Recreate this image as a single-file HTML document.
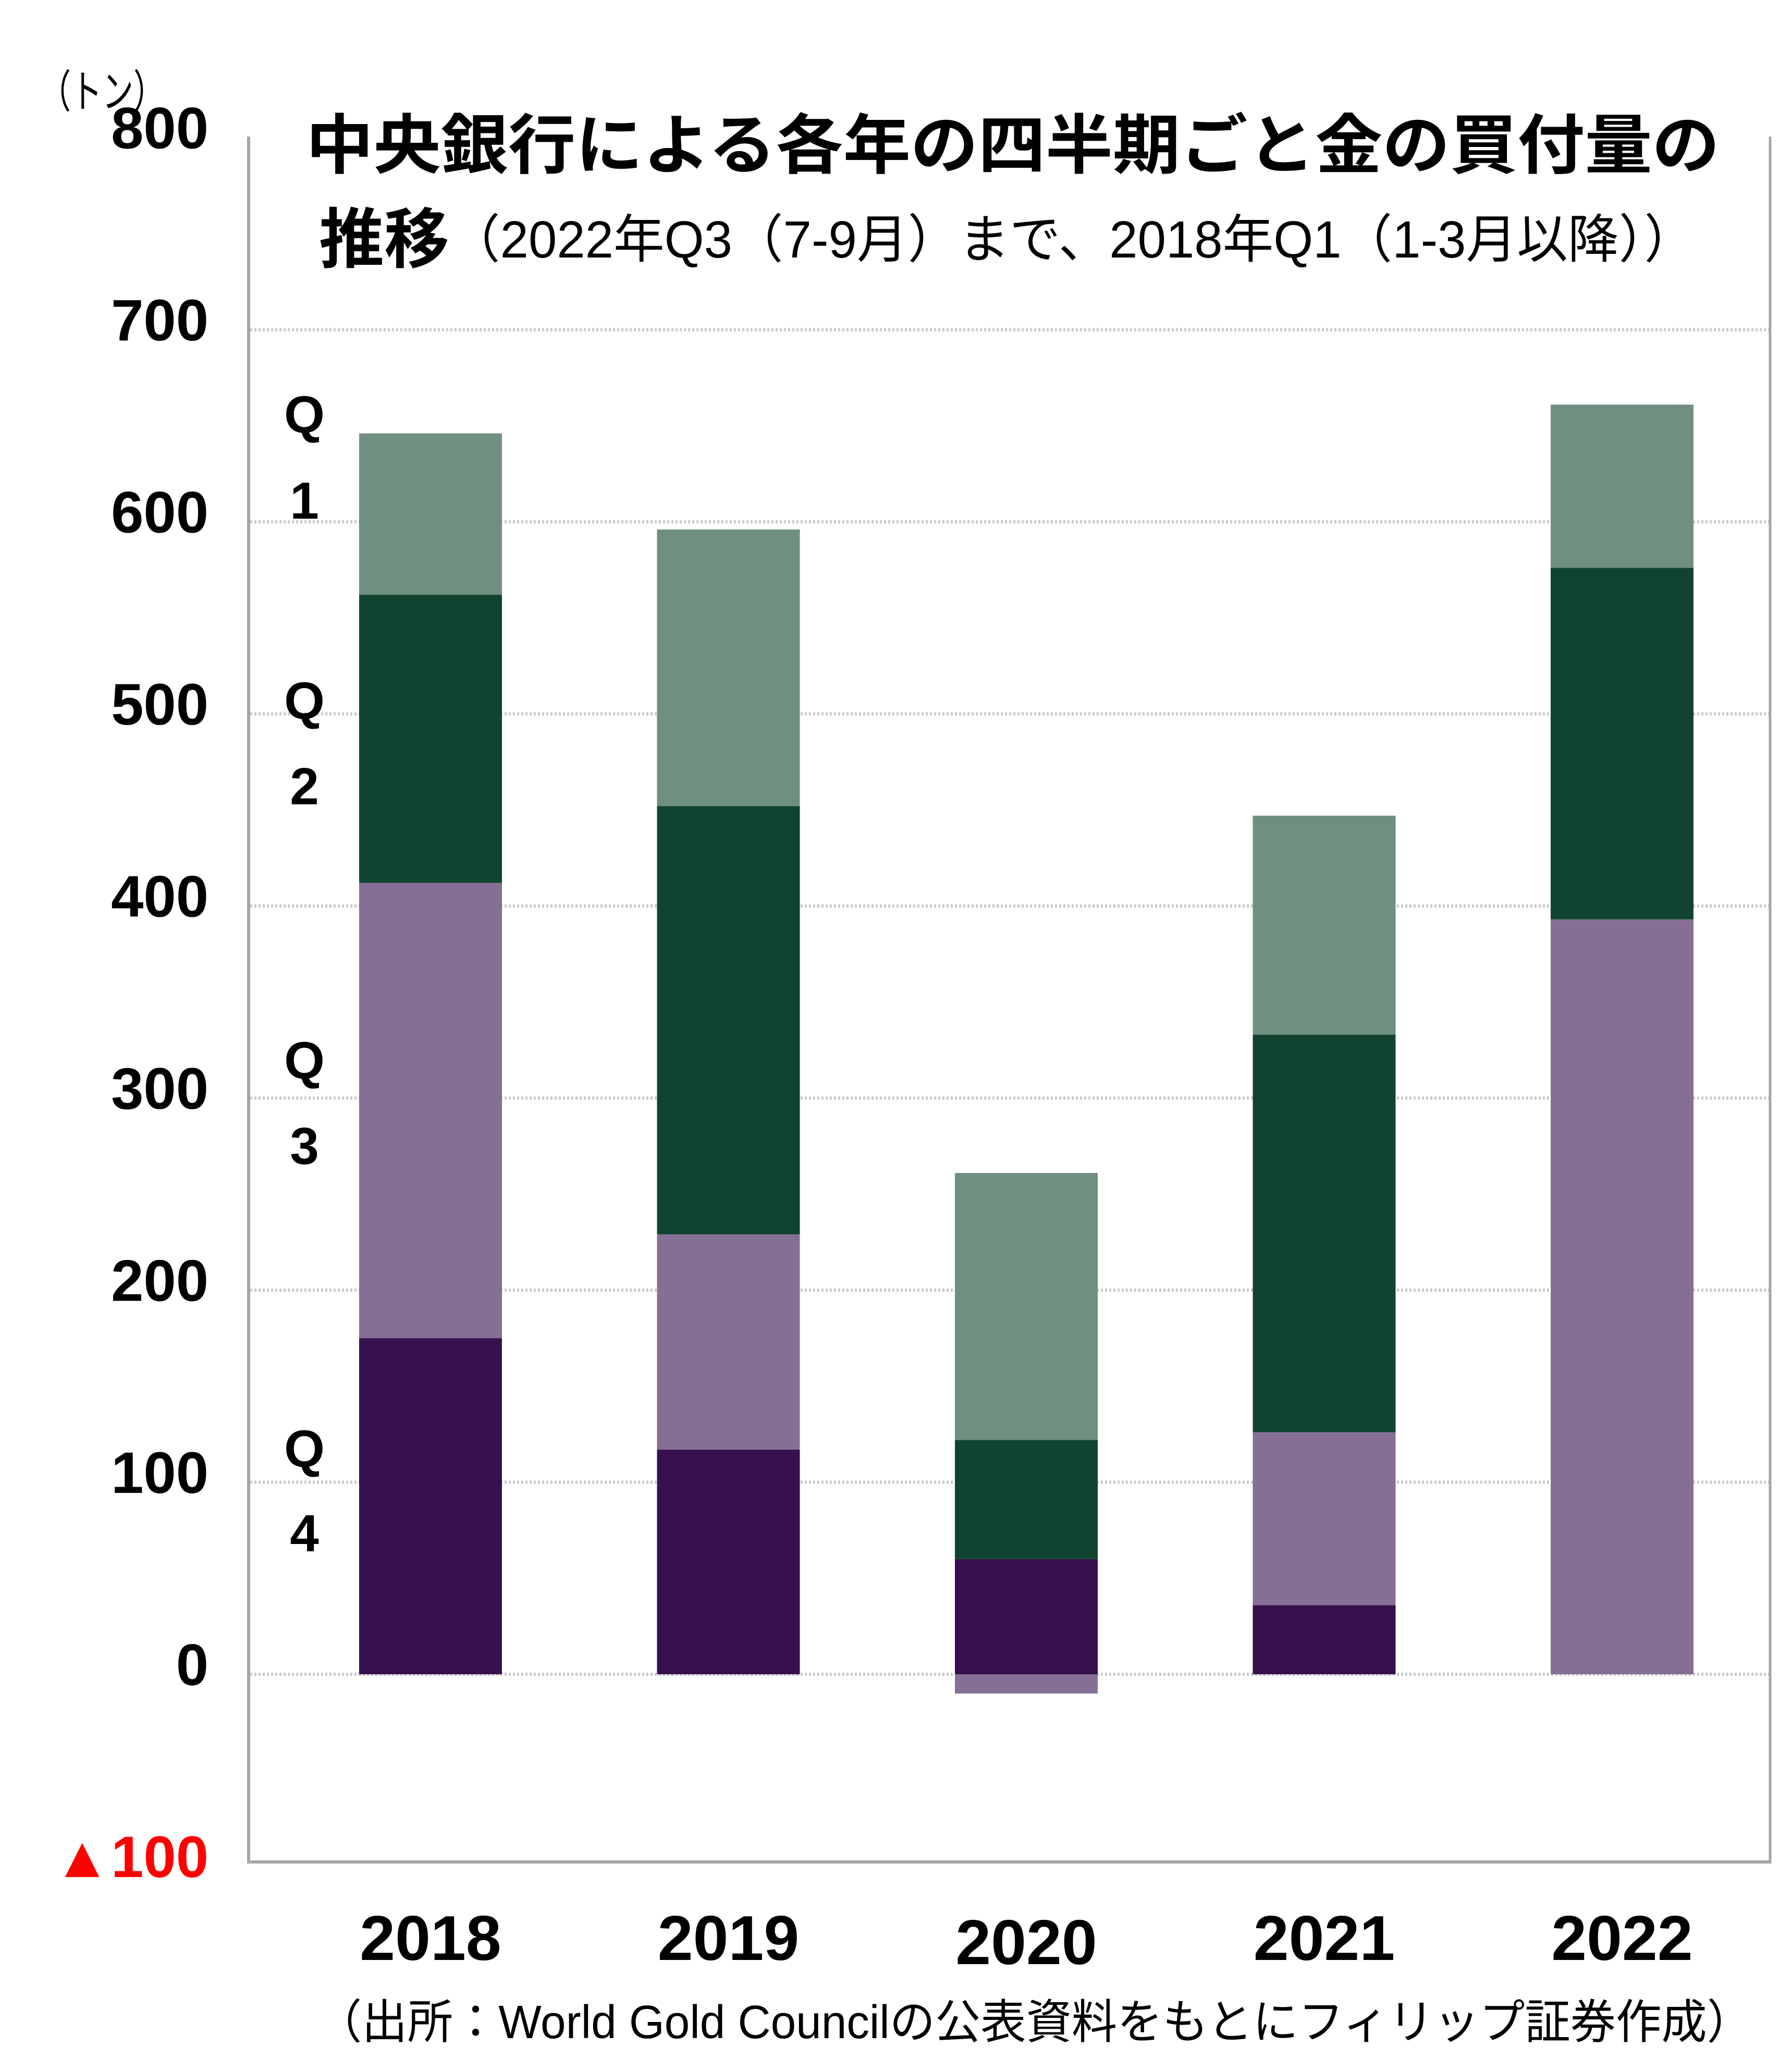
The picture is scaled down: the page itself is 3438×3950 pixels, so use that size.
<!DOCTYPE html>
<html lang="ja"><head><meta charset="utf-8"><title>中央銀行による各年の四半期ごと金の買付量の推移</title>
<style>html,body{margin:0;padding:0;background:#fff}svg{display:block}
text{font-family:"Liberation Sans","Noto Sans CJK JP",sans-serif}</style></head>
<body>
<svg id="chart" width="3438" height="3950" viewBox="0 0 3438 3950" xmlns="http://www.w3.org/2000/svg">
<rect width="3438" height="3950" fill="#fff"/>
<g id="grid"></g>
<line x1="477" y1="262" x2="477" y2="3575" stroke="#a6a6a6" stroke-width="6"/>
<line x1="474" y1="3572" x2="3398" y2="3572" stroke="#a6a6a6" stroke-width="6"/>
<line x1="3396" y1="262" x2="3396" y2="3575" stroke="#a6a6a6" stroke-width="5"/>
<g id="bars"></g>
<g id="yticks"></g>
<g id="xticks"></g>
<text x="76" y="177" dominant-baseline="central" font-size="86" textLength="240" lengthAdjust="spacingAndGlyphs">（トン）</text>
<text x="587" y="280" dominant-baseline="central" font-size="125" font-weight="bold" textLength="2712" lengthAdjust="spacingAndGlyphs">中央銀行による各年の四半期ごと金の買付量の</text>
<text x="612" y="460" dominant-baseline="central"><tspan font-size="125" font-weight="bold" textLength="250" lengthAdjust="spacingAndGlyphs">推移</tspan><tspan font-size="100" textLength="2390" lengthAdjust="spacingAndGlyphs">（2022年Q3（7-9月）まで、2018年Q1（1-3月以降））</tspan></text>
<g font-size="100" font-weight="bold" text-anchor="middle">
<text x="584" y="796" dominant-baseline="central">Q</text>
<text x="584" y="961" dominant-baseline="central">1</text>
<text x="584" y="1345" dominant-baseline="central">Q</text>
<text x="584" y="1509" dominant-baseline="central">2</text>
<text x="584" y="2035" dominant-baseline="central">Q</text>
<text x="584" y="2199" dominant-baseline="central">3</text>
<text x="584" y="2780" dominant-baseline="central">Q</text>
<text x="584" y="2942" dominant-baseline="central">4</text>
</g>
<text x="607" y="3880" dominant-baseline="central" font-size="90" textLength="2755" lengthAdjust="spacingAndGlyphs">（出所：World Gold Councilの公表資料をもとにフィリップ証券作成）</text>
</svg>
<script>
const years = ["2018","2019","2020","2021","2022"];
const q4 = [175, 117, 60, 36, 0];
const q3 = [237, 112, -10, 90, 393];
const q2 = [150, 223, 62, 207, 183];
const q1 = [84, 144, 139, 114, 85];
const tickValues = [800,700,600,500,400,300,200,100,0,-100];
const tickLabels = ["800","700","600","500","400","300","200","100","0","▲100"];
const gridValues = [700,600,500,400,300,200,100,0];

const NS="http://www.w3.org/2000/svg";
const Y0=3212, PX=3.685;
function y(v){return Y0 - v*PX;}
const X0=826, STEP=571.5, BW=274;
function xc(i){return X0 + i*STEP;}
function mk(tag,attrs,parent){const e=document.createElementNS(NS,tag);for(const k in attrs)e.setAttribute(k,attrs[k]);parent.appendChild(e);return e;}

const grid=document.getElementById('grid');
gridValues.forEach(v=>{
  const l=mk('line',{x1:480,x2:3394,y1:y(v),y2:y(v),stroke:'#c8c8c8','stroke-width':6,'stroke-dasharray':'4 4'},grid);
  
  
});

const bars=document.getElementById('bars');
const series=[{d:q4,c:'#37114e',n:'q4'},{d:q3,c:'#866f94',n:'q3'},{d:q2,c:'#114430',n:'q2'},{d:q1,c:'#6f8f80',n:'q1'}];
years.forEach((yr,i)=>{
  let pos=0,neg=0;
  series.forEach(s=>{
    const v=s.d[i]; if(!v) return;
    let a,b;
    if(v>=0){a=pos;b=pos+v;pos=b;} else {a=neg+v;b=neg;neg=a;}
    const r=mk('rect',{x:xc(i)-BW/2,y:y(b),width:BW,height:y(a)-y(b),fill:s.c},bars);
    
    
  });
});

const yt=document.getElementById('yticks');
tickValues.forEach((v,i)=>{
  const neg=v<0;
  const t=mk('text',{x:400,y:y(v)-18,'text-anchor':'end','dominant-baseline':'central','font-size':112,'font-weight':'bold',fill:neg?'#ff0000':'#000'},yt);
  t.textContent=tickLabels[i];
  
  
});

const xt=document.getElementById('xticks');
years.forEach((yr,i)=>{
  const t=mk('text',{x:xc(i),y:3718+ (i===2?8:0),'text-anchor':'middle','dominant-baseline':'central','font-size':122,'font-weight':'bold'},xt);
  t.textContent=yr;
  
  
});
</script>
</body></html>
